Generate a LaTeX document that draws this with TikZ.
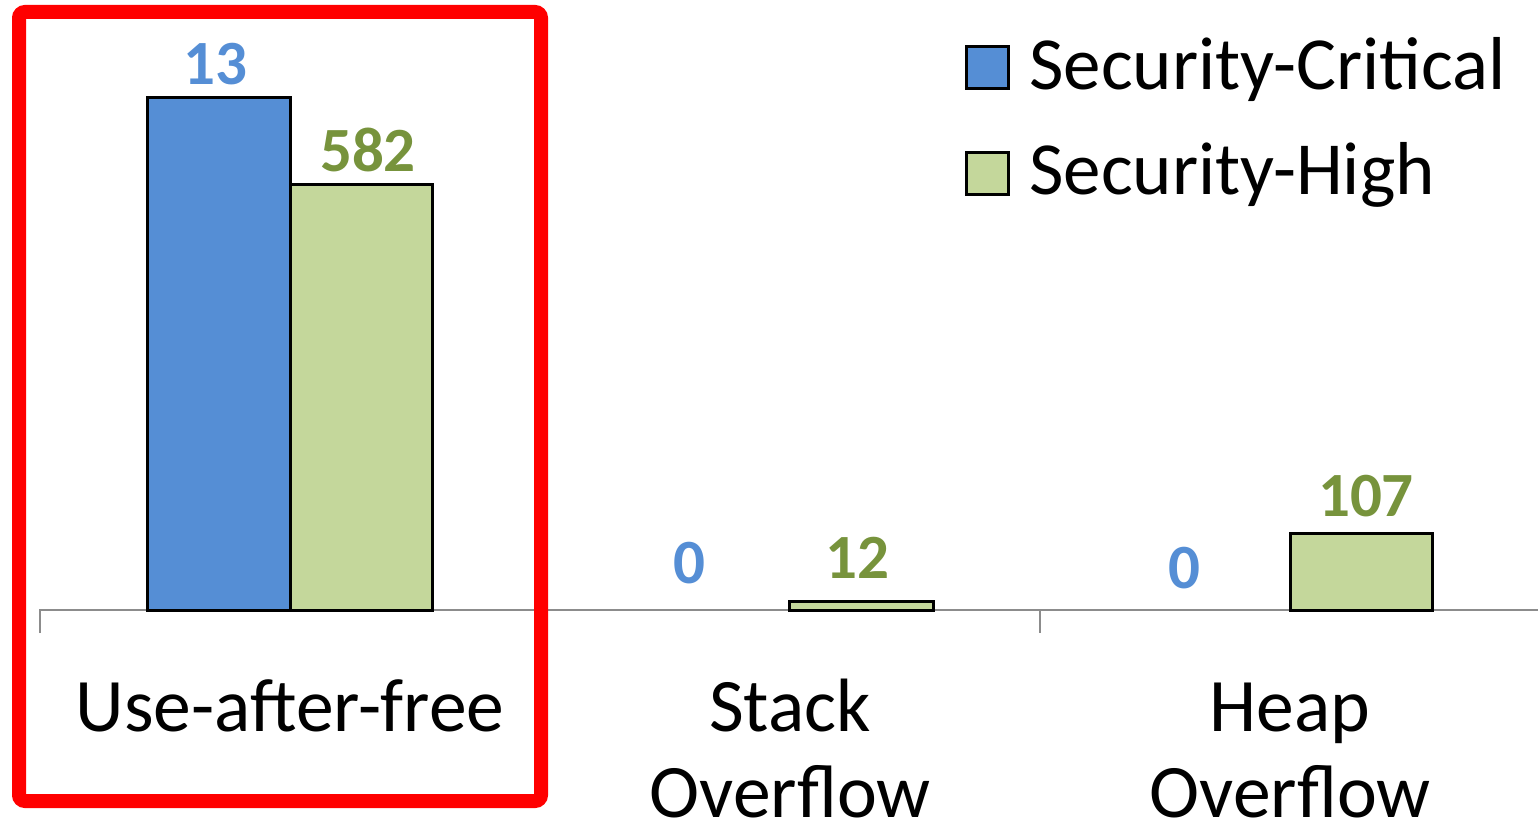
\documentclass[tikz,border=0pt]{standalone}
\usepackage{fontspec}
\setmainfont{Carlito}
\definecolor{critblue}{HTML}{558ED5}
\definecolor{highgreen}{HTML}{C4D79B}
\definecolor{numgreen}{HTML}{77933C}
\definecolor{axisgray}{HTML}{8C8C8C}
\tikzset{
  bar/.style={draw=black, line width=1.5pt},
  critbar/.style={bar, fill=critblue},
  highbar/.style={bar, fill=highgreen},
  critnum/.style={anchor=base, text=critblue, font=\fontsize{31.5}{36}\selectfont\bfseries, inner sep=0pt},
  highnum/.style={anchor=base, text=numgreen, font=\fontsize{31.5}{36}\selectfont\bfseries, inner sep=0pt},
  catlabel/.style={anchor=base, align=center, font=\fontsize{37.8}{44.5}\selectfont, inner sep=0pt},
  legtext/.style={anchor=base west, font=\fontsize{37.5}{40}\selectfont, inner sep=0pt},
  axisline/.style={draw=axisgray, line width=1pt},
}
\begin{document}
\begin{tikzpicture}[x=0.5pt, y=-0.5pt]
  \useasboundingbox (0,0) rectangle (1538,824);

  % category axis with tick marks
  \draw[axisline] (40,633) -- (40,610) -- (1538,610);
  \draw[axisline] (540,610) -- (540,633);
  \draw[axisline] (1040,610) -- (1040,633);

  % bars
  \draw[critbar] (147,610) rectangle (290,98);
  \draw[highbar] (290,610) rectangle (432,185);
  \draw[highbar] (789,610) rectangle (933,601);
  \draw[highbar] (1290,610) rectangle (1432,533);

  % value labels
  \node[critnum] (v13)  at (215,85)  {13};
  \node[highnum] (v582) at (368,172) {582};
  \node[critnum] (v0a)  at (689,583) {0};
  \node[highnum] (v12)  at (857,578) {12};
  \node[critnum] (v0b)  at (1184,588) {0};
  \node[highnum] (v107) at (1366,516) {107};

  % category labels
  \node[catlabel] (uaf)   at (290,731) {Use-after-free};
  \node[catlabel] (stack) at (790,731) {Stack};
  \node[catlabel] (sover) at (790,817) {Overflow};
  \node[catlabel] (heap)  at (1290,731) {Heap};
  \node[catlabel] (hover) at (1290,817) {Overflow};

  % legend
  \draw[critbar] (966,47) rectangle (1008,89);
  \node[legtext] (lcrit) at (1029,90) {Security-Critical};
  \draw[highbar] (966,153) rectangle (1008,195);
  \node[legtext] (lhigh) at (1029,195) {Security-High};

  % highlight frame around the first category
  \draw[red, line width=7pt, rounded corners=3pt] (19,12) rectangle (541,801);
\end{tikzpicture}
\end{document}
